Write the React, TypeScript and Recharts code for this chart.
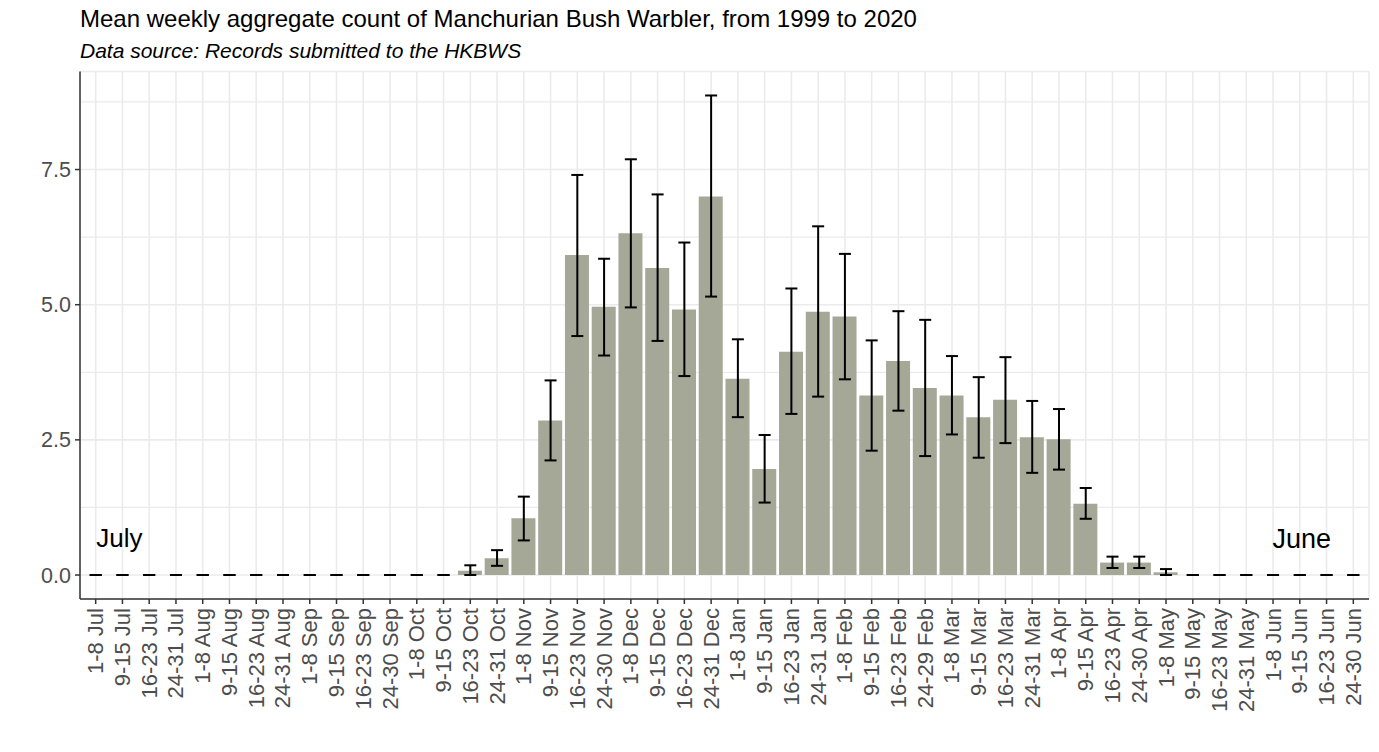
import React from 'react'
import {
  ComposedChart,
  Bar,
  Scatter,
  ErrorBar,
  XAxis,
  YAxis,
  CartesianGrid,
  ReferenceDot
} from 'recharts'

const FONT = '"Liberation Sans", Arial, Helvetica, sans-serif'

const COLORS = {
  bar: '#A5A797',
  grid: '#EBEBEB',
  border: '#333333',
  tick: '#4D4D4D',
  text: '#000000'
}

const weeks = [
  '1-8 Jul', '9-15 Jul', '16-23 Jul', '24-31 Jul',
  '1-8 Aug', '9-15 Aug', '16-23 Aug', '24-31 Aug',
  '1-8 Sep', '9-15 Sep', '16-23 Sep', '24-30 Sep',
  '1-8 Oct', '9-15 Oct', '16-23 Oct', '24-31 Oct',
  '1-8 Nov', '9-15 Nov', '16-23 Nov', '24-30 Nov',
  '1-8 Dec', '9-15 Dec', '16-23 Dec', '24-31 Dec',
  '1-8 Jan', '9-15 Jan', '16-23 Jan', '24-31 Jan',
  '1-8 Feb', '9-15 Feb', '16-23 Feb', '24-29 Feb',
  '1-8 Mar', '9-15 Mar', '16-23 Mar', '24-31 Mar',
  '1-8 Apr', '9-15 Apr', '16-23 Apr', '24-30 Apr',
  '1-8 May', '9-15 May', '16-23 May', '24-31 May',
  '1-8 Jun', '9-15 Jun', '16-23 Jun', '24-30 Jun'
]

// mean weekly count
const means = [
  0, 0, 0, 0, 0, 0, 0, 0, 0, 0, 0, 0,
  0, 0, 0.08, 0.31,
  1.05, 2.86, 5.92, 4.96,
  6.32, 5.68, 4.91, 7.0,
  3.63, 1.96, 4.13, 4.87,
  4.78, 3.32, 3.96, 3.46,
  3.32, 2.92, 3.24, 2.55,
  2.51, 1.32, 0.23, 0.23,
  0.05, 0, 0, 0,
  0, 0, 0, 0
]

// lower end of error bar
const lows = [
  0, 0, 0, 0, 0, 0, 0, 0, 0, 0, 0, 0,
  0, 0, 0, 0.17,
  0.64, 2.12, 4.42, 4.06,
  4.95, 4.33, 3.68, 5.15,
  2.92, 1.34, 2.98, 3.3,
  3.62, 2.3, 3.04, 2.2,
  2.6, 2.17, 2.44, 1.89,
  1.95, 1.04, 0.13, 0.13,
  0, 0, 0, 0,
  0, 0, 0, 0
]

// upper end of error bar
const highs = [
  0, 0, 0, 0, 0, 0, 0, 0, 0, 0, 0, 0,
  0, 0, 0.18, 0.46,
  1.45, 3.6, 7.4, 5.85,
  7.69, 7.04, 6.15, 8.87,
  4.36, 2.59, 5.3, 6.45,
  5.94, 4.34, 4.88, 4.72,
  4.05, 3.66, 4.03, 3.22,
  3.07, 1.61, 0.34, 0.34,
  0.11, 0, 0, 0,
  0, 0, 0, 0
]

const yTicks = [0, 2.5, 5, 7.5]
const yMinor = [1.25, 3.75, 6.25, 8.75]

const data = weeks.map((week, i) => ({
  week,
  mean: means[i],
  err: [means[i] - lows[i], highs[i] - means[i]]
}))

const WeekTick = ({ x, y, payload }: any) => (
  <text
    x={x}
    y={y}
    transform={`rotate(-90, ${x}, ${y})`}
    textAnchor="end"
    dominantBaseline="central"
    fill={COLORS.tick}
    fontSize={22}
  >
    {payload.value}
  </text>
)

export default function App() {
  return (
    <div style={{ position: 'absolute', left: 0, top: 0, width: 1379, height: 752, background: '#fff', fontFamily: FONT }}>
      <div style={{ position: 'absolute', left: 0, top: 0 }}>
        <ComposedChart
          width={1379}
          height={752}
          data={data}
          margin={{ top: 71.5, right: 10, bottom: 0, left: 0 }}
          barSize={24}
        >
          {/* minor grid first, then major on top */}
          <CartesianGrid stroke={COLORS.grid} strokeWidth={1.2} vertical={false} horizontalValues={yMinor} />
          <CartesianGrid stroke={COLORS.grid} strokeWidth={1.6} />
          <XAxis
            dataKey="week"
            interval={0}
            height={153}
            padding={{ left: 2.3, right: 2.3 }}
            tick={<WeekTick />}
            tickSize={5}
            tickMargin={4}
            tickLine={{ stroke: COLORS.border, strokeWidth: 1.5 }}
            axisLine={{ stroke: COLORS.border, strokeWidth: 1.5 }}
          />
          <XAxis xAxisId="top" dataKey="week" orientation="top" height={0} tick={false} tickLine={false} axisLine={{ stroke: COLORS.border, strokeWidth: 1.5 }} />
          <YAxis
            domain={[-0.4435, 9.3135]}
            allowDataOverflow
            ticks={yTicks}
            tickFormatter={(v: number) => v.toFixed(1)}
            width={80}
            tickSize={5}
            tickMargin={4}
            tick={{ fill: COLORS.tick, fontSize: 21.5 }}
            tickLine={{ stroke: COLORS.border, strokeWidth: 1.5 }}
            axisLine={{ stroke: COLORS.border, strokeWidth: 1.5 }}
          />
          <YAxis yAxisId="right" orientation="right" width={0} tick={false} tickLine={false} axisLine={{ stroke: COLORS.border, strokeWidth: 1.5 }} />
          <Bar dataKey="mean" fill={COLORS.bar} isAnimationActive={false} />
          <Scatter dataKey="mean" shape={() => <g />} isAnimationActive={false}>
            <ErrorBar dataKey="err" direction="y" width={6} stroke="#000" strokeWidth={2} isAnimationActive={false} />
          </Scatter>
          <ReferenceDot
            x="9-15 Jul"
            y={0.68}
            r={0}
            fill="none"
            stroke="none"
            label={{ value: 'July', position: 'center', fontSize: 26, fill: COLORS.text, dx: -3 }}
          />
          <ReferenceDot
            x="9-15 Jun"
            y={0.68}
            r={0}
            fill="none"
            stroke="none"
            label={{ value: 'June', position: 'center', fontSize: 27, fill: COLORS.text, dx: 2 }}
          />
        </ComposedChart>
      </div>
      <div style={{ position: 'absolute', left: 80, top: 7, fontSize: 24, lineHeight: 1, color: COLORS.text, whiteSpace: 'nowrap' }}>
        Mean weekly aggregate count of Manchurian Bush Warbler, from 1999 to 2020
      </div>
      <div style={{ position: 'absolute', left: 80, top: 39.5, fontSize: 21, lineHeight: 1, fontStyle: 'italic', color: COLORS.text, whiteSpace: 'nowrap' }}>
        Data source: Records submitted to the HKBWS
      </div>
    </div>
  )
}
